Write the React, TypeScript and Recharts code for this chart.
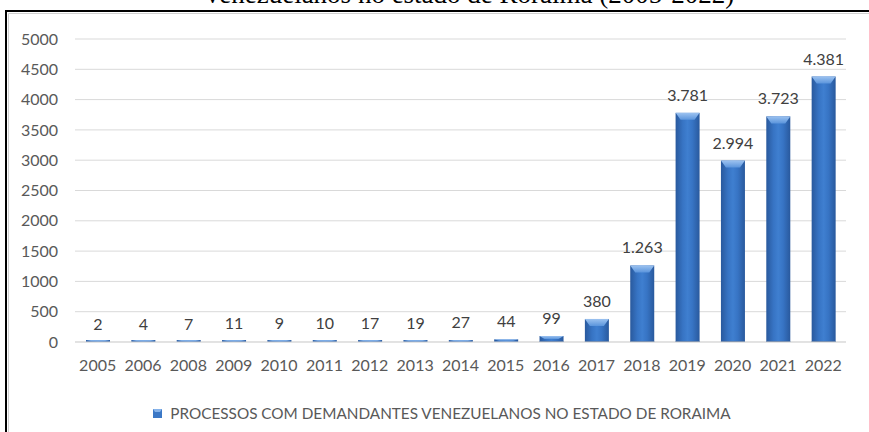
import { Bar, BarChart, CartesianGrid, LabelList, Legend, XAxis, YAxis } from 'recharts'

const years = ['2005', '2006', '2008', '2009', '2010', '2011', '2012', '2013', '2014', '2015', '2016', '2017', '2018', '2019', '2020', '2021', '2022']
const processos = [2, 4, 7, 11, 9, 10, 17, 19, 27, 44, 99, 380, 1263, 3781, 2994, 3723, 4381]
const yTicks = [0, 500, 1000, 1500, 2000, 2500, 3000, 3500, 4000, 4500, 5000]

const seriesName = 'PROCESSOS COM DEMANDANTES VENEZUELANOS NO ESTADO DE RORAIMA'
const title = 'venezuelanos no estado de Roraima (2005-2022)'

const data = years.map((year, i) => ({ year, value: processos[i] }))

const font = 'Lato, "Open Sans", sans-serif'

// 3781 -> "3.781"
const formatPt = (v: number) => String(v).replace(/\B(?=(\d{3})+(?!\d))/g, '.')

const BevelBar = (props: any) => {
  const { x, y, width, height } = props
  const h = Math.max(height, 2)
  const top = y + height - h
  const bevel = Math.min(7, h / 2)
  const inset = Math.min(5, width / 4)
  return (
    <g>
      <rect x={x} y={top} width={width} height={h} fill="url(#barFill)" />
      <rect x={x} y={top + h - 1} width={width} height={1} fill="#234f8c" opacity={h > 4 ? 1 : 0} />
      <polygon
        points={`${x},${top} ${x + width},${top} ${x + width - inset},${top + bevel} ${x + inset},${top + bevel}`}
        fill="url(#bevelFill)"
      />
    </g>
  )
}

const LegendContent = () => (
  <div style={{ display: 'flex', alignItems: 'center', justifyContent: 'center', paddingLeft: 38, fontFamily: font, fontSize: 15.3, color: '#595959' }}>
    <svg width={9} height={9} style={{ marginRight: 8 }}>
      <rect x={0} y={0} width={9} height={9} fill="#3b78c6" />
      <polygon points="0,0 9,0 7,3 2,3" fill="#86b3ea" />
    </svg>
    <span>{seriesName}</span>
  </div>
)

export default function App() {
  return (
    <div style={{ position: 'absolute', left: 0, top: 0, width: 869, height: 432, background: '#ffffff', overflow: 'hidden' }}>
      <svg width={869} height={432} style={{ position: 'absolute', left: 0, top: 0 }}>
        <line x1={6} y1={11} x2={869} y2={11} stroke="#000" strokeWidth={2} />
        <line x1={6} y1={10} x2={6} y2={432} stroke="#000" strokeWidth={2} />
        <line x1={8.5} y1={13.5} x2={869} y2={13.5} stroke="#d0d0d0" strokeWidth={1} />
        <line x1={8.5} y1={13.5} x2={8.5} y2={432} stroke="#d0d0d0" strokeWidth={1} />
        <text x={470} y={3} textAnchor="middle" fontFamily='"Liberation Serif", "DejaVu Serif", serif' fontSize={27} fill="#000">
          {title}
        </text>
      </svg>
      <div style={{ position: 'absolute', left: 0, top: 0 }}>
        <BarChart width={869} height={432} data={data} margin={{ top: 39, right: 23, left: 0, bottom: 10 }}>
          <defs>
            <linearGradient id="barFill" x1="0" y1="0" x2="1" y2="0">
              <stop offset="0%" stopColor="#29599d" />
              <stop offset="30%" stopColor="#3774c4" />
              <stop offset="50%" stopColor="#3f7fd0" />
              <stop offset="70%" stopColor="#3774c4" />
              <stop offset="100%" stopColor="#29599d" />
            </linearGradient>
            <linearGradient id="bevelFill" x1="0" y1="0" x2="0" y2="1">
              <stop offset="0%" stopColor="#9cc2f0" />
              <stop offset="100%" stopColor="#5b95dc" />
            </linearGradient>
          </defs>
          <CartesianGrid vertical={false} stroke="#d9d9d9" />
          <XAxis
            dataKey="year"
            interval={0}
            tickLine={false}
            axisLine={{ stroke: '#d9d9d9' }}
            tickSize={6}
            tickMargin={12}
            height={62}
            tick={{ fill: '#595959', fontSize: 16, fontFamily: font }}
          />
          <YAxis
            domain={[0, 5000]}
            ticks={yTicks}
            interval={0}
            width={75}
            tickLine={false}
            axisLine={false}
            tickSize={6}
            tickMargin={11}
            tick={{ fill: '#595959', fontSize: 16, fontFamily: font }}
          />
          <Legend verticalAlign="bottom" content={LegendContent} />
          <Bar dataKey="value" name={seriesName} barSize={24} shape={BevelBar} isAnimationActive={false}>
            <LabelList
              dataKey="value"
              position="top"
              offset={12}
              formatter={(v: any) => formatPt(Number(v))}
              style={{ fill: '#404040', fontSize: 16, fontFamily: font }}
            />
          </Bar>
        </BarChart>
      </div>
    </div>
  )
}
